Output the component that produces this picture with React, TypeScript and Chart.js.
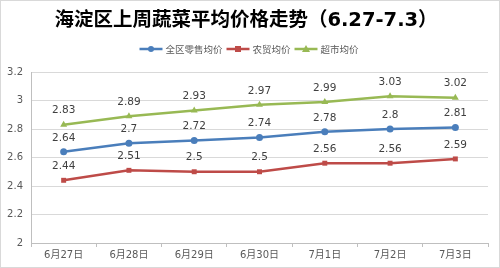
import React, { useEffect, useRef } from "react";
import { Chart, registerables } from "chart.js";

Chart.register(...registerables);

const categories = ["6月27日", "6月28日", "6月29日", "6月30日", "7月1日", "7月2日", "7月3日"];
const retailAvg = [2.64, 2.7, 2.72, 2.74, 2.78, 2.8, 2.81];
const marketAvg = [2.44, 2.51, 2.5, 2.5, 2.56, 2.56, 2.59];
const superAvg = [2.83, 2.89, 2.93, 2.97, 2.99, 3.03, 3.02];
const seriesNames = ["全区零售均价", "农贸均价", "超市均价"];
const titleText = "海淀区上周蔬菜平均价格走势（6.27-7.3）";

const colors = ["#4a7ebb", "#be4b48", "#98b954"];
const styles = ["circle", "rect", "triangle"];

const FONT = '"DejaVu Sans", "Noto Sans CJK SC", sans-serif';

export default function App() {
  const ref = useRef<HTMLCanvasElement | null>(null);
  useEffect(() => {
    document.body.style.margin = "0";
    const canvas = ref.current!;
    const decor = {
      id: "decor",
      beforeDraw(chart: any) {
        const ctx = chart.ctx;
        ctx.save();
        ctx.fillStyle = "#ffffff";
        ctx.fillRect(0, 0, chart.width, chart.height);
        ctx.strokeStyle = "#d9d9d9";
        ctx.lineWidth = 1;
        ctx.strokeRect(0.5, 0.5, chart.width - 1, chart.height - 1);
        ctx.restore();
      },
      afterDraw(chart: any) {
        const ctx = chart.ctx;
        ctx.save();
        // title
        ctx.fillStyle = "#000000";
        ctx.font = 'bold 19.5px "DejaVu Sans", "Noto Sans CJK SC", sans-serif';
        ctx.textAlign = "center";
        ctx.textBaseline = "middle";
        ctx.fillText(titleText, 246, 21);
        // legend
        ctx.font = '9.5px "Noto Sans CJK SC", sans-serif';
        const widths = seriesNames.map((n) => ctx.measureText(n).width);
        const lineW = 23;
        const gap = 3;
        const itemGap = 4;
        const total = widths.reduce((a, w) => a + lineW + gap + w, 0) + itemGap * (seriesNames.length - 1);
        let x = 249 - total / 2;
        const y = 49;
        ctx.textBaseline = "middle";
        seriesNames.forEach((n, i) => {
          ctx.strokeStyle = colors[i];
          ctx.lineWidth = 2.5;
          ctx.beginPath();
          ctx.moveTo(x, y);
          ctx.lineTo(x + lineW, y);
          ctx.stroke();
          ctx.fillStyle = colors[i];
          const cx = x + lineW / 2;
          ctx.beginPath();
          if (i === 0) ctx.arc(cx, y, 3, 0, Math.PI * 2);
          else if (i === 1) ctx.rect(cx - 3, y - 3, 6, 6);
          else {
            ctx.moveTo(cx, y - 4);
            ctx.lineTo(cx + 4, y + 3);
            ctx.lineTo(cx - 4, y + 3);
            ctx.closePath();
          }
          ctx.fill();
          ctx.fillStyle = "#595959";
          ctx.textAlign = "left";
          ctx.fillText(n, x + lineW + gap, y);
          x += lineW + gap + widths[i] + itemGap;
        });
        // data labels
        ctx.font = "10.5px " + FONT;
        ctx.fillStyle = "#404040";
        ctx.textAlign = "center";
        ctx.textBaseline = "middle";
        chart.data.datasets.forEach((ds: any, di: number) => {
          const meta = chart.getDatasetMeta(di);
          meta.data.forEach((pt: any, i: number) => {
            ctx.fillText(String(ds.data[i]), pt.x, pt.y - 14);
          });
        });
        ctx.restore();
      },
    };
    const mk = (label: string, data: number[], i: number) => ({
      label,
      data,
      borderColor: colors[i],
      backgroundColor: colors[i],
      borderWidth: 2.5,
      pointStyle: styles[i],
      pointRadius: i === 2 ? 4 : 3.5,
      pointBorderWidth: 0,
      pointBackgroundColor: colors[i],
      tension: 0,
    });
    const chart = new Chart(canvas, {
      type: "line",
      data: {
        labels: categories,
        datasets: [mk(seriesNames[0], retailAvg, 0), mk(seriesNames[1], marketAvg, 1), mk(seriesNames[2], superAvg, 2)],
      },
      options: {
        animation: false,
        responsive: false,
        layout: { padding: { top: 72, left: 0, right: 12, bottom: 0 } },
        plugins: { legend: { display: false }, title: { display: false }, tooltip: { enabled: false } },
        scales: {
          x: {
            offset: true,
            grid: { drawOnChartArea: false, drawTicks: true, tickLength: 4, color: "#bfbfbf", offset: true },
            border: { color: "#bfbfbf" },
            ticks: { color: "#595959", font: { family: FONT, size: 10 }, padding: 2 },
            afterFit: (s: any) => {
              s.height = 25;
            },
          },
          y: {
            min: 2,
            max: 3.2,
            grid: { color: "#d9d9d9", drawTicks: false },
            border: { color: "#bfbfbf" },
            ticks: {
              stepSize: 0.2,
              color: "#595959",
              padding: 8,
              font: { family: FONT, size: 10 },
              callback: (v: any) => String(Number(Number(v).toFixed(1))),
            },
            afterFit: (s: any) => {
              s.width = 31;
            },
          },
        },
      },
      plugins: [decor],
    });
    return () => chart.destroy();
  }, []);
  return (
    <div style={{ width: 500, height: 268 }}>
      <canvas ref={ref} width={500} height={268} style={{ display: "block" }} />
    </div>
  );
}
